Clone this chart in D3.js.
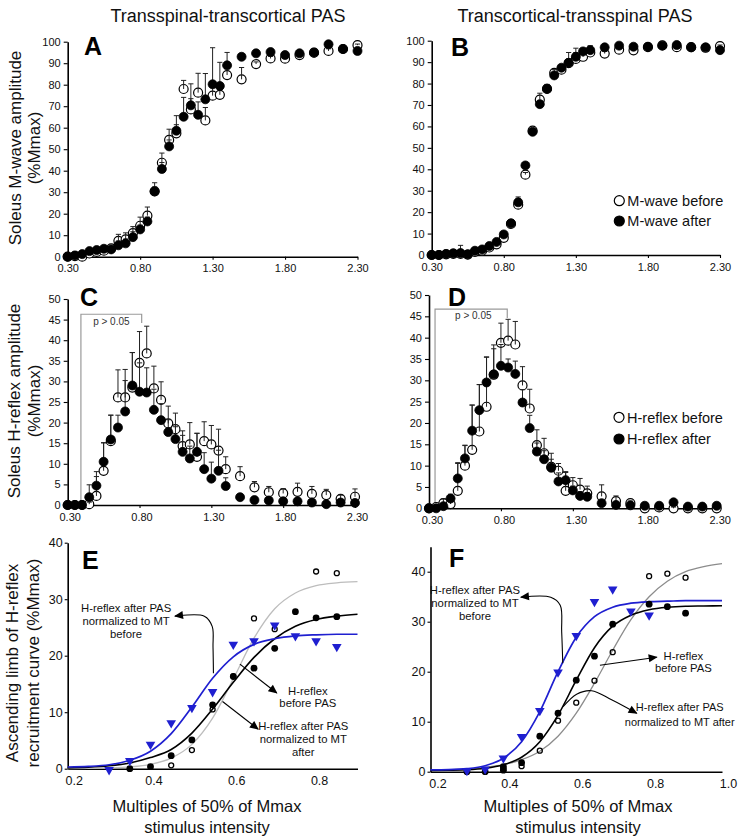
<!DOCTYPE html>
<html><head><meta charset="utf-8">
<script src="https://cdn.jsdelivr.net/npm/d3@7"></script>
<style>
body{margin:0;background:#fff}
svg{display:block}
text{font-family:"Liberation Sans",Arial,Helvetica,sans-serif;fill:#111}
</style>
</head><body>
<svg id="c" width="738" height="838"></svg>
<script>
// ---------------- DATA ----------------
const stimX = [0.30,0.35,0.40,0.45,0.50,0.55,0.60,0.65,0.70,0.75,0.80,0.85,0.90,0.95,1.00,1.05,1.10,1.15,1.20,1.25,1.30,1.35,1.40,1.50,1.60,1.70,1.80,1.90,2.00,2.10,2.20,2.30];
const xTickABCD = [0.3,0.8,1.3,1.8,2.3];
const yTickAB = [0,10,20,30,40,50,60,70,80,90,100];
const yTickCD = [0,5,10,15,20,25,30,35,40,45,50];

// Panel A (M-wave, transspinal-transcortical)
const A_before    = [0,0.3,0,1.5,2.2,2.8,3.9,7.4,8.1,11,14.4,19.1,30.4,43.7,54.3,57.4,78,68.5,76.3,63.4,74.9,75.3,84.5,82.5,89.6,92.2,92.1,93.8,94.9,95.7,96.6,98.4];
const A_beforeErr = [0.3,0.3,0.3,0.5,0.5,0.8,1,3,3,3,4,4,2,4.5,5,4,4,5,9,6,5,5,3,5.5,1,1,1,1,1,1,1,0.5];
const A_after     = [0,0.6,1.2,2.6,3.1,3.7,3.4,5.3,6.2,9.1,12.7,16.4,30.4,40.8,51.3,58.6,65.1,70.4,66,73.2,80.2,79.4,89,93,94.6,95.2,93.8,94.6,94.9,98.8,96.6,95.7];
const A_afterErr  = [0.3,0.3,0.3,0.5,0.5,0.5,0.8,2,2,2.5,2,2,4,3,3,7,9,10,6,12,17,11,6,1.5,1,1,1,1,1,1,1,1];

// Panel B (M-wave, transcortical-transspinal)
const B_before    = [0,0,0.3,0.5,0.5,0.2,1.5,2,3.5,5,8,14.5,23.5,37.5,58,72.5,77.5,85,86.5,89.5,91.5,92.5,94.5,94,95.8,95.5,97,97.8,97,97,96.7,97.5];
const B_beforeErr = [0.3,0.3,0.5,0.5,4,0.5,0.5,0.5,0.8,1,1,1.5,2,1,1,3,1.5,1.5,1.5,5,5,2,3,1,0.5,0.5,0.5,0.5,0.5,0.5,0.5,0.5];
const B_after     = [0,0,0.5,0.8,0.9,0.3,2,2.6,4.2,6.1,9.6,14.8,24.6,41.8,57.5,70.4,77.6,83.8,87.4,89.7,92.5,95,95.6,96.9,97.7,97.2,97.2,97.7,98,96.9,96.9,95.6];
const B_afterErr  = [0.3,0.3,0.3,0.3,0.3,0.3,0.5,0.5,0.8,1,1,1.5,2.5,1,1,1.5,2,1.5,1.5,1.5,2,1.5,2,1,0.5,0.5,0.5,0.5,0.5,0.5,0.5,0.5];

// Panel C (H-reflex, transspinal-transcortical)
const C_before    = [0,0,0,0.2,2.2,8.3,15.5,26.1,26.1,28.5,34.5,36.8,28.3,25.5,19.8,18.4,14.3,14.7,11.7,15.5,14.7,13.2,8.7,7,4.3,3.1,2.8,3.2,2.7,2.4,1.5,2];
const C_beforeErr = [0,0,0,0.5,4.7,6.8,6.3,6.7,6.8,8.5,7.6,6.6,5.4,4.4,4.2,3.9,3.7,5.3,5.7,4.7,4.6,5.2,3,2.3,1.4,1.4,1.2,2.1,1.8,1.4,0.9,1.9];
const C_after     = [0,0,0,1.9,4.7,10.5,15.9,18.8,22.7,29,27.5,27.3,23.1,20.6,17.7,16,12.9,11.3,12.9,8.7,6.4,8.3,4.6,1.9,1.2,1.1,0.9,0.9,0.6,0.2,0.6,0.5];
const C_afterErr  = [0,0,0,3,3.4,4.6,5.9,3,7.5,8,7,6,5,4,3,3,4,3,4.5,4,4,5,2,0.5,0.5,0.5,0.5,0.5,0.5,0.5,0.5,0.5];

// Panel D (H-reflex, transcortical-transspinal)
const D_before    = [0,0.3,1.2,1.0,4.1,10,13.7,18,23.8,31.3,38.8,39.3,38.4,28.8,23.4,14.8,12.9,9.7,8.8,4.1,5.4,4.4,3.5,2.8,1.7,1.2,0,0.2,0,0,0,0];
const D_beforeErr = [0,0.5,1,2,6.6,4.8,10.5,11,11.6,7,4.6,5,5.4,4.4,4.5,3.6,3.5,3.2,1.7,4.3,1.8,2.6,1.7,2.7,1.2,0.5,0.3,0.3,0.3,0.3,0.3,0.3];
const D_after     = [0,0,0.5,2.3,7,11.7,18.2,23,29.5,31.4,33.4,33,31.5,24.8,18.8,13.3,11.5,9.5,6.3,6.6,4.2,2.9,2.7,1.2,0.8,0.7,0.6,0.6,1.4,0.4,0.4,0.6];
const D_afterErr  = [0,0.5,0.5,1,3.5,3,6,6,6,6,5,2,3,3,3,2,2,2,2,2,1,1,1,0.5,0.5,0.5,0.5,0.5,0.5,0.5,0.5,0.5];

// Panel E (ascending limb, transspinal-transcortical)
const E_normX   = [0.30,0.35,0.40,0.45,0.50,0.55,0.60,0.65,0.70,0.75,0.80,0.85];
const E_norm    = [-0.2,1.4,4.3,8.1,10.8,13.6,22,22.6,25.4,23.5,22.6,21.6];
const E_afterX  = [0.35,0.40,0.45,0.50,0.55,0.60,0.65,0.70,0.75,0.80,0.85];
const E_after   = [0,0.35,2.3,5.1,11.3,16.3,17.8,21.3,27.8,26.7,26.9];
const E_beforeX = [0.45,0.50,0.55,0.60,0.65,0.70,0.80,0.85];
const E_before  = [0.6,3.3,10.5,16.4,26.6,24.7,34.9,34.6];
const E_fitX      = [0.20,0.25,0.30,0.35,0.40,0.45,0.50,0.55,0.60,0.65,0.70,0.75,0.80,0.85,0.90];
const E_fitBefore = [0.02,0.05,0.13,0.32,0.78,1.87,4.3,8.95,15.9,23.1,28.3,31.1,32.4,32.9,33.1];
const E_fitAfter  = [0.13,0.26,0.52,1.02,1.97,3.4,6.3,10.55,15.3,19.7,23.0,25.2,26.4,27.0,27.35];
const E_fitNorm   = [0.3,0.4,0.7,1.5,3.1,6.2,10.9,16.0,19.8,22.0,23.0,23.5,23.7,23.8,23.8];

// Panel F (ascending limb, transcortical-transspinal)
const F_normX   = [0.30,0.35,0.40,0.45,0.50,0.55,0.60,0.65,0.70,0.75,0.80];
const F_norm    = [0.2,0.5,2.7,7,12.2,19.9,27.2,34,36.5,32.1,31.3];
const F_afterX  = [0.30,0.35,0.40,0.40,0.45,0.50,0.55,0.60,0.65,0.70,0.80,0.85,0.90];
const F_after   = [0,0,0.3,1.0,1.8,7.1,11.7,18.3,23.1,29.5,33.5,33,31.7];
const F_beforeX = [0.40,0.45,0.50,0.55,0.60,0.65,0.70,0.80,0.85,0.90];
const F_before  = [0.6,1.1,4.2,10.2,13.8,18.2,23.9,39.1,39.6,38.8];
const F_fitX      = [0.20,0.25,0.30,0.35,0.40,0.45,0.50,0.55,0.60,0.65,0.70,0.75,0.80,0.85,0.90,0.95,1.00];
const F_fitBefore = [0.3,0.4,0.55,0.85,1.4,2.4,4.1,7.1,11.7,17.7,24.3,30.4,35.0,38.1,40.0,41.0,41.6];
const F_fitAfter  = [0.25,0.3,0.4,0.7,1.4,2.9,6.0,11.3,18.3,24.8,29.1,31.3,32.4,32.9,33.1,33.15,33.2];
const F_fitNorm   = [0.35,0.4,0.6,1.2,2.7,6.0,12.0,20.0,26.9,31.0,32.9,33.7,34.0,34.1,34.2,34.2,34.2];

const xTickE = [0.2,0.4,0.6,0.8];
const xTickF = [0.2,0.4,0.6,0.8,1.0];
const yTickEF = [0,10,20,30,40];

// ---------------- DRAW ----------------
const svg = d3.select('#c');
const FONT = '"Liberation Sans",Arial,Helvetica,sans-serif';
const BLUE = '#1f1fd0';

const defs = svg.append('defs');
defs.append('marker').attr('id','ah').attr('viewBox','0 0 10 10')
  .attr('refX',9).attr('refY',5).attr('markerWidth',10).attr('markerHeight',9)
  .attr('markerUnits','userSpaceOnUse').attr('orient','auto')
  .append('path').attr('d','M0,0.5 L10,5 L0,9.5 Z').attr('fill','#000');

function axes(g, x, y, o){
  const ya = d3.axisLeft(y).tickValues(o.yTicks).tickSize(o.yTickSize).tickPadding(o.yPad)
    .tickSizeOuter(0).tickFormat(d3.format('d'));
  const gy = g.append('g').attr('transform',`translate(${x.range()[0]},0)`).call(ya);
  const xa = d3.axisBottom(x).tickValues(o.xTicks).tickSize(o.xTickSize).tickPadding(o.xPad)
    .tickSizeOuter(0).tickFormat(o.xFmt);
  const gx = g.append('g').attr('transform',`translate(0,${y.range()[0]})`).call(xa);
  [gx,gy].forEach(a=>{
    a.attr('font-family',FONT).attr('font-size',o.fs);
    a.select('.domain').attr('stroke','#000').attr('stroke-width',1.6);
    a.selectAll('.tick line').attr('stroke','#000').attr('stroke-width',1.1);
    a.selectAll('.tick text').attr('fill','#111');
  });
  gx.selectAll('.tick text').attr('dx',(d,i)=> i===0 ? o.xShift0 : o.xShift);
}

function errorBars(g, x, y, xs, vals, errs){
  const idx = d3.range(xs.length).filter(i=>errs[i]>0.05);
  g.selectAll(null).data(idx).join('line')
    .attr('x1',i=>x(xs[i])).attr('x2',i=>x(xs[i]))
    .attr('y1',i=>y(vals[i])).attr('y2',i=>y(vals[i]+errs[i]))
    .attr('stroke','#222').attr('stroke-width',1);
  g.selectAll(null).data(idx).join('line')
    .attr('x1',i=>x(xs[i])-2.6).attr('x2',i=>x(xs[i])+2.6)
    .attr('y1',i=>y(vals[i]+errs[i])).attr('y2',i=>y(vals[i]+errs[i]))
    .attr('stroke','#222').attr('stroke-width',1);
}

function dots(g, x, y, xs, vals, open, r){
  g.selectAll(null).data(d3.range(xs.length)).join('circle')
    .attr('cx',i=>x(xs[i])).attr('cy',i=>y(vals[i])).attr('r',r)
    .attr('fill',open?'#fff':'#000').attr('stroke','#000').attr('stroke-width',open?1.2:0.8);
}

function scatterPanel(o){
  const g = svg.append('g');
  const x = d3.scaleLinear().domain([0.3,2.3]).range(o.xr);
  const y = d3.scaleLinear().domain(o.yd).range(o.yr);
  axes(g,x,y,{yTicks:o.yTicks,yTickSize:4,yPad:3,xTicks:xTickABCD,xTickSize:3,xPad:5,
    xFmt:d3.format('.2f'),fs:11,xShift:o.xShift,xShift0:o.xShift});
  if(o.bracket){
    const b=o.bracket;
    g.append('path')
      .attr('d',`M${x(b.x0)},${y(0)}V${y(b.top)}H${x(b.x1)}V${y(b.tick)}`)
      .attr('fill','none').attr('stroke','#9a9a9a').attr('stroke-width',1.2);
    g.append('text').attr('x',x(b.tx)).attr('y',y(b.ty)).attr('dy','0.35em')
      .attr('text-anchor','middle').attr('font-size',10).style('fill','#333').text('p > 0.05');
  }
  dots(g,x,y,stimX,o.before,true,4.5);
  errorBars(g,x,y,stimX,o.before,o.beforeErr);
  errorBars(g,x,y,stimX,o.after,o.afterErr);
  dots(g,x,y,stimX,o.after,false,4.5);
  g.append('text').attr('x',o.letter[0]).attr('y',o.letter[1]).attr('font-size',25)
    .attr('font-weight','bold').style('fill','#000').text(o.label);
  if(o.legend){
    const L=o.legend;
    L.items.forEach((t,i)=>{
      const cy=L.y+i*L.dy;
      g.append('circle').attr('cx',L.x).attr('cy',cy).attr('r',5)
        .attr('fill',i===0?'#fff':'#000').attr('stroke','#000').attr('stroke-width',1.2);
      g.append('text').attr('x',L.x+8).attr('y',cy).attr('dy','0.36em')
        .attr('font-size',14.5).text(t);
    });
  }
  return {x,y};
}

scatterPanel({label:'A',letter:[84,55],xr:[67.7,357.5],yd:[0,100],yr:[256.7,41.7],yTicks:yTickAB,xShift:0,
  before:A_before,beforeErr:A_beforeErr,after:A_after,afterErr:A_afterErr});
scatterPanel({label:'B',letter:[451,56],xr:[431.7,720],yd:[0,100],yr:[255,40.7],yTicks:yTickAB,xShift:0,
  before:B_before,beforeErr:B_beforeErr,after:B_after,afterErr:B_afterErr,
  legend:{x:619.3,y:200.7,dy:20.3,items:['M-wave before','M-wave after']}});
scatterPanel({label:'C',letter:[80,306],xr:[67.7,355],yd:[0,50],yr:[505,299],yTicks:yTickCD,xShift:2,
  before:C_before,beforeErr:C_beforeErr,after:C_after,afterErr:C_afterErr,
  bracket:{x0:0.392,x1:0.815,top:46.3,tick:44.2,tx:0.604,ty:44.5}});
scatterPanel({label:'D',letter:[448,306],xr:[429,716.7],yd:[0,50],yr:[508.3,295],yTicks:yTickCD,xShift:3,
  before:D_before,beforeErr:D_beforeErr,after:D_after,afterErr:D_afterErr,
  bracket:{x0:0.342,x1:0.844,top:46.7,tick:44.6,tx:0.608,ty:45.1},
  legend:{x:619,y:417.3,dy:21.7,items:['H-reflex before','H-reflex after']}});

function fitPanel(o){
  const g = svg.append('g');
  const x = d3.scaleLinear().domain(o.xd).range(o.xr);
  const y = d3.scaleLinear().domain(o.yd).range(o.yr);
  axes(g,x,y,{yTicks:yTickEF,yTickSize:3,yPad:2,xTicks:o.xTicks,xTickSize:0,xPad:7,
    xFmt:d3.format('.1f'),fs:12.5,xShift:o.xShift,xShift0:o.xShift0});
  const line = d3.line().x(d=>x(d[0])).y(d=>y(d[1])).curve(d3.curveMonotoneX);
  const fits=[[o.fitBefore,o.grayCol,1.3],[o.fitAfter,'#000',1.6],[o.fitNorm,BLUE,1.7]];
  fits.forEach(([vals,col,w])=>{
    g.append('path').attr('d',line(o.fitX.map((v,i)=>[v,vals[i]])))
      .attr('fill','none').attr('stroke',col).attr('stroke-width',w);
  });
  // open "before" points
  g.selectAll(null).data(d3.range(o.beforeX.length)).join('circle')
    .attr('cx',i=>x(o.beforeX[i])).attr('cy',i=>y(o.before[i])).attr('r',2.5)
    .attr('fill','none').attr('stroke','#000').attr('stroke-width',1.3);
  // filled "after" points
  g.selectAll(null).data(d3.range(o.afterX.length)).join('circle')
    .attr('cx',i=>x(o.afterX[i])).attr('cy',i=>y(o.after[i])).attr('r',3.4).attr('fill','#000');
  // blue triangles
  const tri=d3.symbol(d3.symbolTriangle).size(40)();
  g.selectAll(null).data(d3.range(o.normX.length)).join('path')
    .attr('d',tri).attr('fill',BLUE)
    .attr('transform',i=>`translate(${x(o.normX[i])},${y(o.norm[i])}) rotate(180)`);
  // annotations
  const aline = d3.line().x(d=>x(d[0])).y(d=>y(d[1])).curve(d3.curveCatmullRom.alpha(0.5));
  o.notes.forEach(n=>{
    n.lines.forEach((t,i)=>{
      g.append('text').attr('x',x(n.tx)).attr('y',y(n.ty[i])).attr('dy','0.35em')
        .attr('text-anchor','middle').attr('font-size',n.fs||11.3).text(t);
    });
    g.append('path').attr('d',aline(n.arrow)).attr('fill','none')
      .attr('stroke','#000').attr('stroke-width',1.1).attr('marker-end','url(#ah)');
  });
  g.append('text').attr('x',o.letter[0]).attr('y',o.letter[1]).attr('font-size',25)
    .attr('font-weight','bold').style('fill','#000').text(o.label);
  return {x,y};
}

fitPanel({label:'E',letter:[82,569],xd:[0.2,0.9],xr:[67.7,357.5],yd:[0,40],yr:[768.7,542.7],
  xTicks:xTickE,xShift:3,xShift0:6,grayCol:'#bdbdbd',
  fitX:E_fitX,fitBefore:E_fitBefore,fitAfter:E_fitAfter,fitNorm:E_fitNorm,
  beforeX:E_beforeX,before:E_before,afterX:E_afterX,after:E_after,normX:E_normX,norm:E_norm,
  notes:[
    {lines:['H-reflex after PAS','normalized to MT','before'],tx:0.341,ty:[28.5,26.1,23.8],
     arrow:[[0.552,16.9],[0.551,21.5],[0.549,25.2],[0.53,27.0],[0.459,27.0]]},
    {lines:['H-reflex','before PAS'],tx:0.78,ty:[13.8,11.6],arrow:[[0.616,18.5],[0.705,13.4]]},
    {lines:['H-reflex after PAS','normalized to MT','after'],tx:0.769,ty:[7.56,5.2,2.9],
     arrow:[[0.574,11.9],[0.660,7.0]]}
  ]});
fitPanel({label:'F',letter:[449,567],xd:[0.2,1.0],xr:[430.5,722],yd:[0,45],yr:[771.7,546.7],
  xTicks:xTickF,xShift:6,xShift0:7,grayCol:'#8c8c8c',
  fitX:F_fitX,fitBefore:F_fitBefore,fitAfter:F_fitAfter,fitNorm:F_fitNorm,
  beforeX:F_beforeX,before:F_before,afterX:F_afterX,after:F_after,normX:F_normX,norm:F_norm,
  notes:[
    {lines:['H-reflex after PAS','normalized to MT','before'],tx:0.322,ty:[36.3,33.7,31.1],
     arrow:[[0.563,21.7],[0.560,28],[0.556,33.3],[0.53,34.9],[0.448,34.9]]},
    {lines:['H-reflex','before PAS'],tx:0.894,ty:[23.1,20.7],arrow:[[0.665,21.3],[0.821,22.9]]},
    {lines:['H-reflex after PAS','normalized to MT after'],tx:0.884,ty:[13.0,10.0],fs:11,
     arrow:[[0.564,13.0],[0.601,15.5],[0.642,16.2],[0.697,14.4],[0.766,11.7]]}
  ]});

// ---------------- TITLES ----------------
const titles = [
  ['Transspinal-transcortical PAS',228,22],
  ['Transcortical-transspinal PAS',575,22]
];
titles.forEach(t=>svg.append('text').attr('x',t[1]).attr('y',t[2]).attr('text-anchor','middle')
  .attr('font-size',18).text(t[0]));

const yTitles = [
  [['Soleus M-wave amplitude','(%Mmax)'],[15,34],148],
  [['Soleus H-reflex amplitude','(%Mmax)'],[14,34],401],
  [['Ascending limb of H-reflex','recruitment curve (%Mmax)'],[12,33],663]
];
yTitles.forEach(([lines,xs,yc])=>{
  lines.forEach((t,i)=>svg.append('text')
    .attr('transform',`translate(${xs[i]},${yc}) rotate(-90)`)
    .attr('text-anchor','middle').attr('dy','0.35em').attr('font-size',17).text(t));
});

const xTitles = [[207,['Multiples of 50% of Mmax','stimulus intensity']],[578,['Multiples of 50% of Mmax','stimulus intensity']]];
xTitles.forEach(([xc,lines])=>{
  lines.forEach((t,i)=>svg.append('text').attr('x',xc).attr('y',812+i*20.5)
    .attr('text-anchor','middle').attr('font-size',16.5).text(t));
});
</script>
</body></html>
